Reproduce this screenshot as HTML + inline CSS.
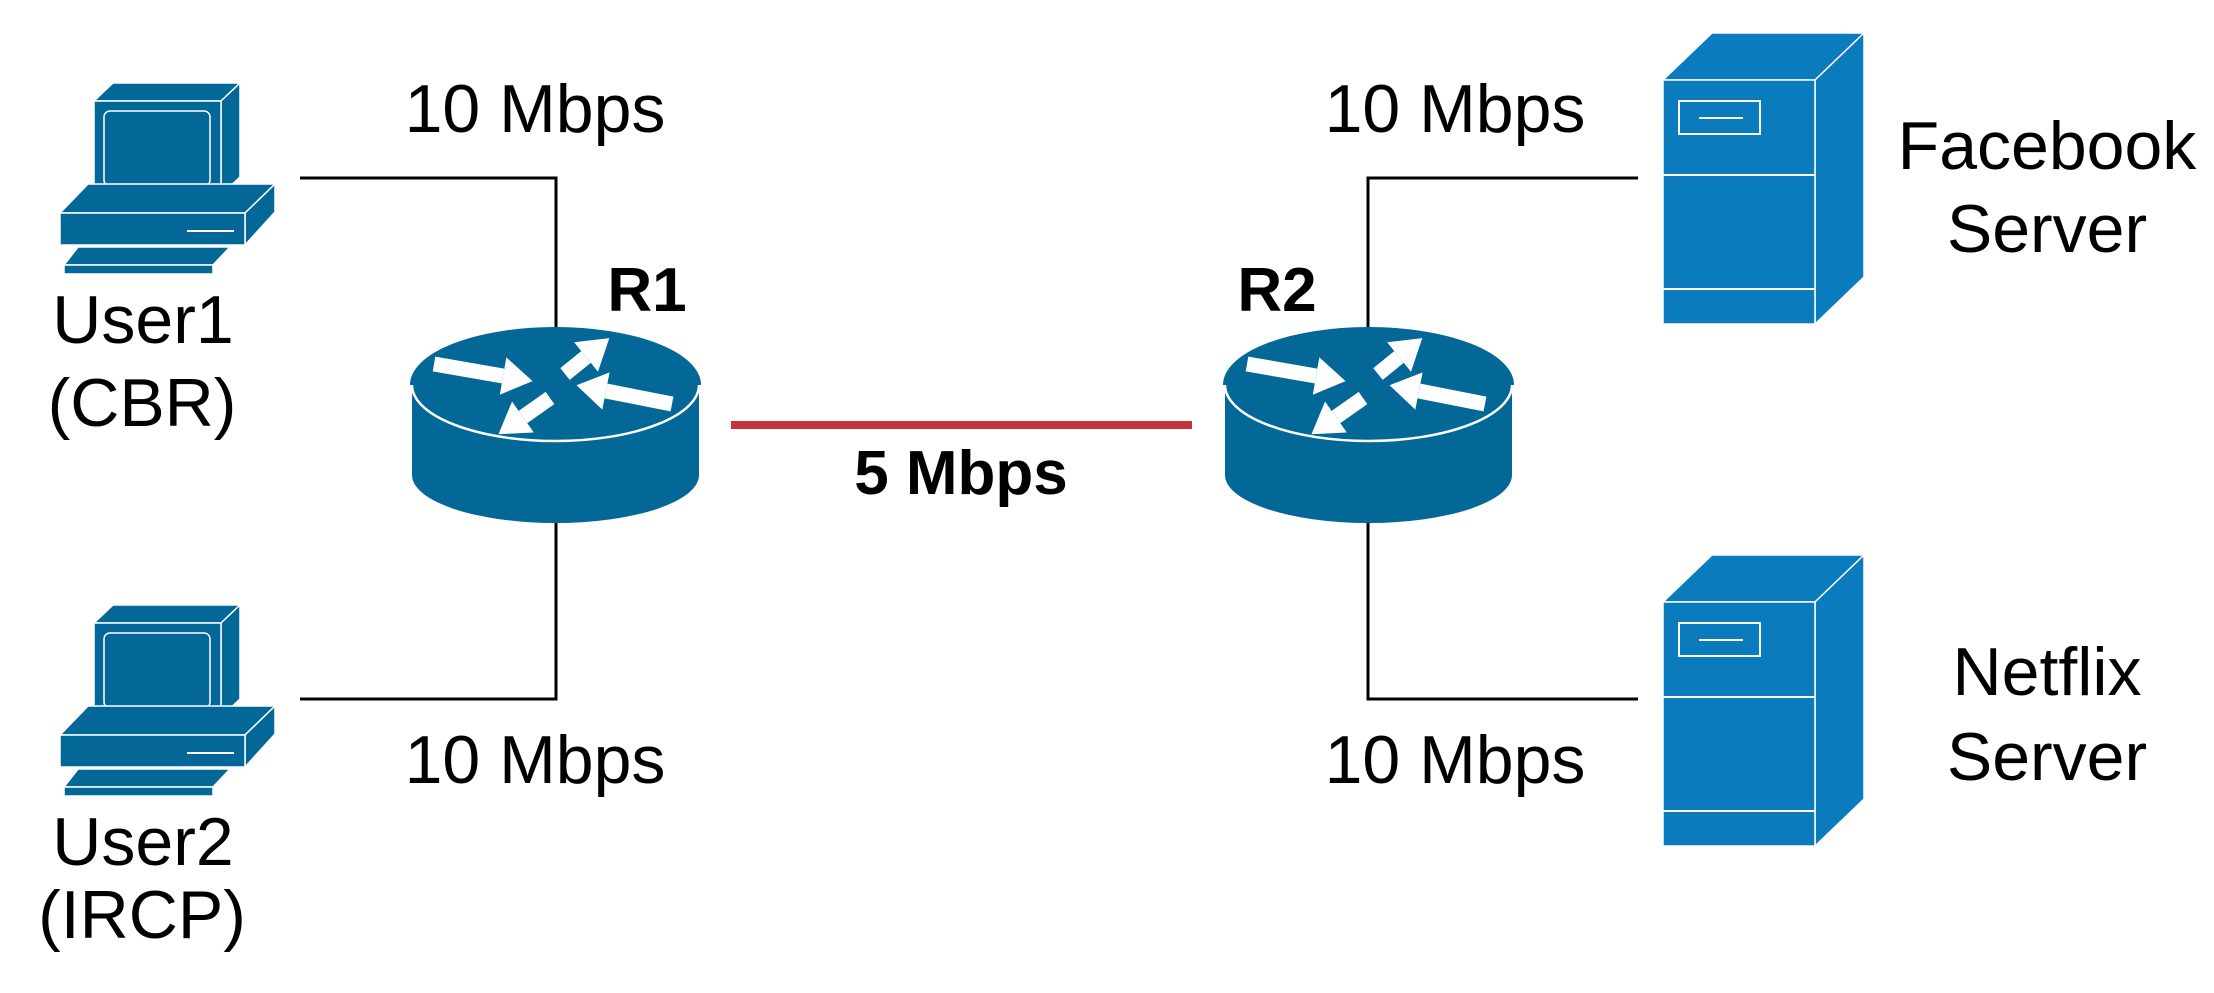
<!DOCTYPE html>
<html><head><meta charset="utf-8"><style>
html,body{margin:0;padding:0;background:#fff;}
svg{display:block;}
text{font-family:"Liberation Sans",sans-serif;fill:#000;}
</style></head><body>
<svg width="2214" height="993" viewBox="0 0 2214 993" xmlns="http://www.w3.org/2000/svg">
<defs>
<marker id="ah" markerUnits="userSpaceOnUse" markerWidth="44" markerHeight="44" refX="0" refY="19" orient="auto">
<polygon points="0,0 30,19 0,38" fill="#fff"/>
</marker>
<g id="comp">
<polygon points="94,101 113,83 240,83 221,101" fill="#036897" stroke="#fff" stroke-width="1.5"/>
<polygon points="221,101 240,83 240,177 221,195" fill="#036897" stroke="#fff" stroke-width="1.5"/>
<rect x="94" y="101" width="127" height="94" fill="#036897" stroke="#fff" stroke-width="1.5"/>
<rect x="104" y="111" width="106" height="75" rx="6" fill="#036897" stroke="#fff" stroke-width="1.5"/>
<polygon points="60,213 88,184 275,184 245,213" fill="#036897" stroke="#fff" stroke-width="1.5"/>
<polygon points="245,213 275,184 275,212 245,245" fill="#036897" stroke="#fff" stroke-width="1.5"/>
<rect x="60" y="213" width="185" height="32" fill="#036897" stroke="#fff" stroke-width="1.5"/>
<line x1="187" y1="231" x2="234" y2="231" stroke="#fff" stroke-width="2"/>
<polygon points="78,247 230,247 213,265 64,265" fill="#036897" stroke="#fff" stroke-width="1.5"/>
<rect x="64" y="265" width="149" height="9" fill="#036897" stroke="#fff" stroke-width="1.5"/>
</g>
<g id="router">
<path d="M412,385 L412,475 A143.5,48 0 0 0 699,475 L699,385 Z" fill="#036897"/>
<ellipse cx="555.5" cy="385" rx="143.5" ry="56" fill="#036897" stroke="#fff" stroke-width="2.5"/>
<path d="M412,385 A143.5,56 0 0 1 699,385" fill="none" stroke="#036897" stroke-width="4"/>
<g stroke="#fff" stroke-width="15" marker-end="url(#ah)">
<line x1="434" y1="364" x2="503" y2="376"/>
<line x1="565" y1="374" x2="586" y2="357"/>
<line x1="672" y1="404" x2="606" y2="391"/>
<line x1="550" y1="398" x2="523" y2="417"/>
</g>
</g>
<g id="server">
<polygon points="1663,80 1712,33 1864,33 1815,80" fill="#0a7bbd" stroke="#fff" stroke-width="1.5"/>
<polygon points="1815,80 1864,33 1864,277 1815,324" fill="#0a7bbd" stroke="#fff" stroke-width="1.5"/>
<rect x="1663" y="80" width="152" height="244" fill="#0a7bbd" stroke="#fff" stroke-width="1.5"/>
<line x1="1663" y1="175" x2="1815" y2="175" stroke="#fff" stroke-width="2"/>
<line x1="1663" y1="289" x2="1815" y2="289" stroke="#fff" stroke-width="2"/>
<rect x="1679" y="101" width="81" height="33" fill="none" stroke="#fff" stroke-width="2"/>
<line x1="1699" y1="118" x2="1743" y2="118" stroke="#fff" stroke-width="2"/>
</g>
</defs>

<g fill="none" stroke="#000" stroke-width="3">
<polyline points="300,178 556,178 556,330"/>
<polyline points="300,699 556,699 556,520"/>
<polyline points="1638,178 1368,178 1368,330"/>
<polyline points="1638,699 1368,699 1368,520"/>
</g>
<line x1="731" y1="425" x2="1192" y2="425" stroke="#c8323c" stroke-width="8"/>

<use href="#comp"/>
<use href="#comp" transform="translate(0,522)"/>
<use href="#router"/>
<use href="#router" transform="translate(813,0)"/>
<use href="#server"/>
<use href="#server" transform="translate(0,522)"/>

<g font-size="68" text-anchor="middle">
<text x="143" y="343">User1</text>
<text x="142" y="426">(CBR)</text>
<text x="143" y="865">User2</text>
<text x="142" y="938">(IRCP)</text>
<text x="535" y="132">10 Mbps</text>
<text x="535" y="783">10 Mbps</text>
<text x="1455" y="132">10 Mbps</text>
<text x="1455" y="783">10 Mbps</text>
<text x="2047" y="169">Facebook</text>
<text x="2047" y="252">Server</text>
<text x="2047" y="695">Netflix</text>
<text x="2047" y="780">Server</text>
</g>
<g font-size="62" font-weight="bold" text-anchor="middle">
<text x="647" y="311">R1</text>
<text x="1277" y="311">R2</text>
<text x="961" y="494">5 Mbps</text>
</g>
</svg>
</body></html>
